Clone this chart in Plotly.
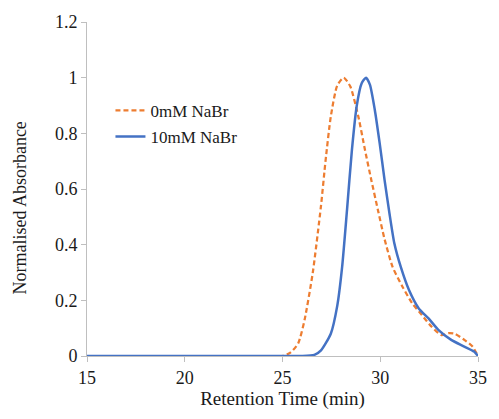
import plotly.graph_objects as go

# Retention time (min) and normalised absorbance for each eluent
time_0mM = [15, 20, 24.5, 25.0, 25.4, 25.8, 26.13, 26.55, 26.97, 27.2, 27.47, 27.8, 28.13,
            28.47, 28.88, 29.22, 29.55, 29.88, 30.22, 30.63, 31.13, 31.63, 32.13,
            32.63, 33.13, 33.5, 33.8, 34.3, 34.72, 35.0]
abs_0mM = [0, 0, 0, 0.0, 0.012, 0.045, 0.13, 0.30, 0.54, 0.70, 0.86, 0.972, 1.0,
           0.968, 0.86, 0.74, 0.63, 0.525, 0.42, 0.32, 0.25, 0.19, 0.147,
           0.105, 0.075, 0.082, 0.08, 0.058, 0.034, 0.0]

time_10mM = [15, 20, 25, 26.0, 26.63, 26.97, 27.47, 27.8, 28.05, 28.3, 28.55, 28.8, 29.05,
             29.27, 29.47, 29.72, 29.97, 30.22, 30.47, 30.72, 31.05, 31.47, 31.97,
             32.47, 32.97, 33.63, 34.3, 34.8, 35.0]
abs_10mM = [0, 0, 0, 0.0, 0.004, 0.02, 0.08, 0.18, 0.32, 0.525, 0.74, 0.90, 0.98,
            1.0, 0.975, 0.885, 0.765, 0.633, 0.513, 0.405, 0.32, 0.237, 0.171,
            0.135, 0.094, 0.058, 0.034, 0.016, 0.0]

series_names = ["0mM NaBr", "10mM NaBr"]

fig = go.Figure()
fig.add_trace(go.Scatter(
    x=time_0mM, y=abs_0mM, name=series_names[0], mode="lines", legendgroup="a",
    line=dict(color="#ED7D31", width=2.25, dash="5px,3px", shape="spline", smoothing=0.6),
))
fig.add_trace(go.Scatter(
    x=time_10mM, y=abs_10mM, name=series_names[1], mode="lines", legendgroup="b",
    line=dict(color="#4472C4", width=2.5, shape="spline", smoothing=0.6),
))

serif = "Liberation Serif, Times New Roman, serif"
fig.update_layout(
    width=499, height=419,
    margin=dict(l=87, r=12, t=22, b=63),
    paper_bgcolor="white", plot_bgcolor="white",
    font=dict(family=serif, size=18, color="#1a1a1a"),
    showlegend=True,
    legend=dict(x=0.06, y=0.788, xanchor="left", yanchor="top", traceorder="grouped",
                bgcolor="rgba(0,0,0,0)", font=dict(family=serif, size=17, color="#1a1a1a"),
                tracegroupgap=1),
    xaxis=dict(
        range=[15, 35], tickvals=[15, 20, 25, 30, 35], showgrid=False, zeroline=False,
        showline=True, linecolor="#BFBFBF", linewidth=1,
        ticks="outside", ticklen=5, tickcolor="#BFBFBF",
        title=dict(text="Retention Time (min)", font=dict(size=19), standoff=4),
    ),
    yaxis=dict(
        range=[0, 1.2], tickvals=[0, 0.2, 0.4, 0.6, 0.8, 1.0, 1.2], showgrid=False, zeroline=False,
        showline=True, linecolor="#BFBFBF", linewidth=1,
        ticks="outside", ticklen=5, tickcolor="#BFBFBF",
    ),
    annotations=[dict(
        text="Normalised Absorbance", textangle=-90, showarrow=False,
        xref="paper", yref="paper", x=-0.1725, y=0.443,
        xanchor="center", yanchor="middle", font=dict(family=serif, size=18, color="#1a1a1a"),
    )],
)

fig.write_html("out.html")
